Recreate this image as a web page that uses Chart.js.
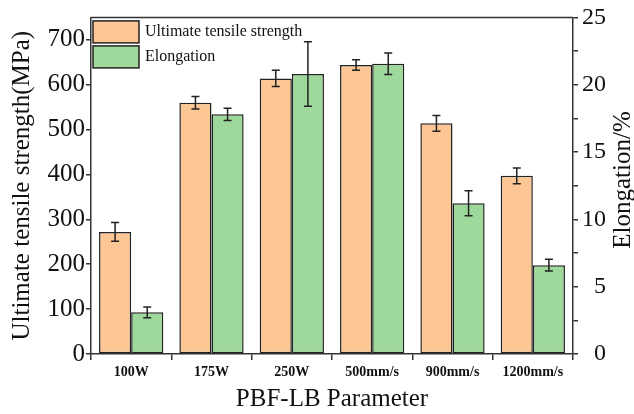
<!DOCTYPE html>
<html>
<head>
<meta charset="utf-8">
<script src="https://cdn.jsdelivr.net/npm/chart.js@4/dist/chart.umd.min.js"></script>
<style>
  html, body { margin: 0; padding: 0; background: #fff; }
  #wrap { width: 634px; height: 414px; }
</style>
</head>
<body>
<div id="wrap"><canvas id="barChart" width="634" height="414"></canvas></div>
<script>
const categories = ['100W', '175W', '250W', '500mm/s', '900mm/s', '1200mm/s'];
const strength = [272, 560, 614, 644, 514, 397];
const strengthErr = [21, 14, 18, 11.5, 17.5, 17.5];
const elongation = [3.1, 17.8, 20.8, 21.55, 11.2, 6.6];
const elongationErr = [0.4, 0.45, 2.4, 0.8, 0.93, 0.43];

const serif = "'Liberation Serif', 'Times New Roman', serif";
const lineColor = '#333';

// error bars drawn on top of each bar
const errorBars = {
    id: 'errorBars',
    afterDatasetsDraw(chart) {
        const ctx = chart.ctx;
        const errs = [strengthErr, elongationErr];
        ctx.save();
        ctx.strokeStyle = '#222';
        ctx.lineWidth = 1.5;
        chart.data.datasets.forEach((ds, i) => {
            const meta = chart.getDatasetMeta(i);
            const scale = chart.scales[ds.yAxisID];
            meta.data.forEach((bar, j) => {
                const v = ds.data[j];
                const top = scale.getPixelForValue(v + errs[i][j]);
                const bottom = scale.getPixelForValue(v - errs[i][j]);
                const x = bar.x;
                ctx.beginPath();
                ctx.moveTo(x, top); ctx.lineTo(x, bottom);
                ctx.moveTo(x - 4, top); ctx.lineTo(x + 4, top);
                ctx.moveTo(x - 4, bottom); ctx.lineTo(x + 4, bottom);
                ctx.stroke();
            });
        });
        ctx.restore();
    }
};

// frame, legend inside plot, right axis title
const extras = {
    id: 'extras',
    afterDraw(chart) {
        const ctx = chart.ctx;
        const area = chart.chartArea;
        ctx.save();
        ctx.strokeStyle = lineColor;
        ctx.lineWidth = 1.5;
        ctx.beginPath();
        ctx.moveTo(area.left, area.top);
        ctx.lineTo(area.right, area.top);
        ctx.stroke();

        chart.data.datasets.forEach((ds, i) => {
            const y = area.top + 3.5 + i * 25;
            ctx.fillStyle = ds.backgroundColor;
            ctx.fillRect(area.left + 2, y, 46, 22);
            ctx.strokeStyle = '#222';
            ctx.lineWidth = 1.5;
            ctx.strokeRect(area.left + 2, y, 46, 22);
            ctx.fillStyle = '#111';
            ctx.font = '16px ' + serif;
            ctx.textAlign = 'left';
            ctx.textBaseline = 'middle';
            ctx.fillText(ds.label, area.left + 54, y + 11);
        });

        ctx.translate(623, 180);
        ctx.rotate(-Math.PI / 2);
        ctx.fillStyle = '#111';
        ctx.font = '25px ' + serif;
        ctx.textAlign = 'center';
        ctx.textBaseline = 'middle';
        ctx.fillText('Elongation/%', 0, 0);
        ctx.restore();
    }
};

const ctx = document.getElementById('barChart').getContext('2d');
new Chart(ctx, {
    type: 'bar',
    data: {
        labels: categories,
        datasets: [{
            label: 'Ultimate tensile strength',
            data: strength,
            yAxisID: 'y',
            backgroundColor: '#FCC794',
            borderColor: '#222',
            borderWidth: 1.5,
            borderSkipped: false
        }, {
            label: 'Elongation',
            data: elongation,
            yAxisID: 'y2',
            backgroundColor: '#9ED89A',
            borderColor: '#222',
            borderWidth: 1.5,
            borderSkipped: false
        }]
    },
    options: {
        responsive: false,
        animation: false,
        layout: { padding: { top: 15.5, left: 0, right: 28, bottom: 0 } },
        datasets: { bar: { categoryPercentage: 0.8, barPercentage: 1.0 } },
        plugins: {
            legend: { display: false },
            tooltip: { enabled: false }
        },
        scales: {
            x: {
                afterFit: s => { s.height = 60; },
                grid: { drawOnChartArea: false, tickLength: 6, color: lineColor, lineWidth: 1.5, offset: true },
                border: { color: lineColor, width: 1.5 },
                ticks: { color: '#111', padding: 4, maxRotation: 0, autoSkip: false, font: { family: serif, size: 14, weight: 'bold' } },
                title: { display: true, text: 'PBF-LB Parameter', color: '#111', padding: { top: 0, bottom: 0 }, font: { family: serif, size: 25 } }
            },
            y: {
                position: 'left',
                min: 0, max: 750,
                afterFit: s => { s.width = 91; },
                grid: { drawOnChartArea: false, tickLength: 5, color: lineColor, lineWidth: 1.5 },
                border: { color: lineColor, width: 1.5 },
                ticks: {
                    stepSize: 50, padding: 1, color: '#111',
                    font: { family: serif, size: 25 },
                    callback: v => (v % 100 === 0 ? v : '')
                },
                title: { display: true, text: 'Ultimate tensile strength(MPa)', color: '#111', padding: { top: 7, bottom: 0 }, font: { family: serif, size: 25 } }
            },
            y2: {
                position: 'right',
                min: 0, max: 25,
                afterFit: s => { s.width = 33; },
                grid: { drawOnChartArea: false, tickLength: 5, color: lineColor, lineWidth: 1.5 },
                border: { color: lineColor, width: 1.5 },
                ticks: {
                    stepSize: 2.5, padding: 3, crossAlign: 'far', color: '#111',
                    font: { family: serif, size: 24 },
                    callback: v => (v % 5 === 0 ? v : '')
                }
            }
        }
    },
    plugins: [errorBars, extras]
});
</script>
</body>
</html>
